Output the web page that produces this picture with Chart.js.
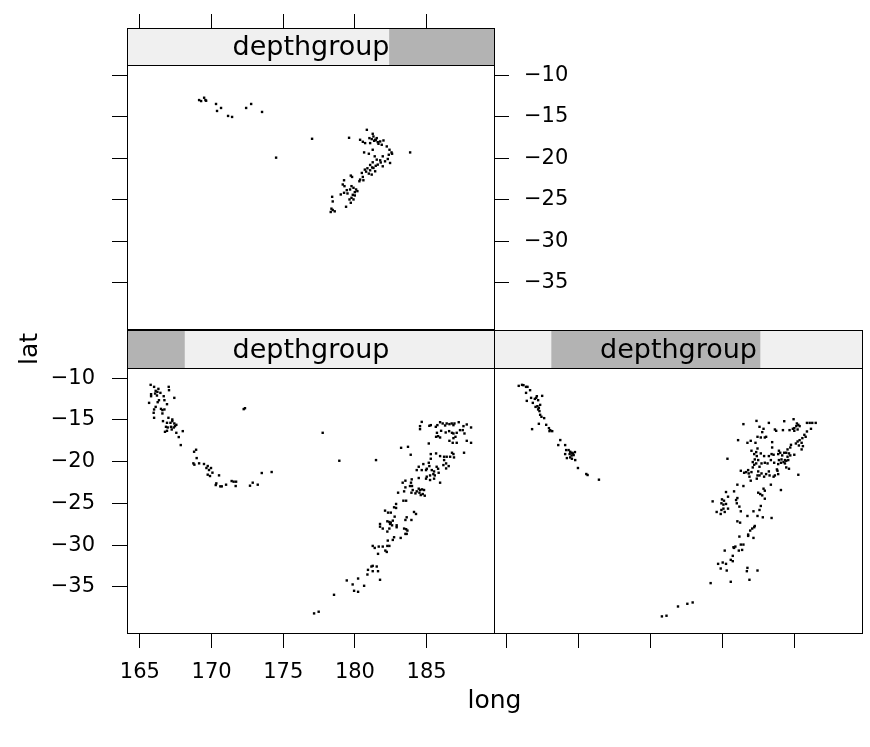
<!DOCTYPE html>
<html>
<head>
<meta charset="utf-8">
<script src="https://cdn.jsdelivr.net/npm/chart.js@4.4.1/dist/chart.umd.min.js"></script>
<style>
  html, body { margin: 0; padding: 0; background: #fff; }
  #wrap { position: relative; width: 870px; height: 747px; }
  #wrap canvas { position: absolute; left: 0; top: 0; }
</style>
</head>
<body>
<div id="wrap">
  <canvas id="panel-shallow" width="870" height="747"></canvas>
  <canvas id="panel-mid" width="870" height="747"></canvas>
  <canvas id="panel-deep" width="870" height="747"></canvas>
</div>
<script>
// Axis limits (lattice pads the data range by 7%) and tick values.
const longRange = [164.10, 189.70];
const latRange = [-40.54, -8.77];
const longTicks = [165, 170, 175, 180, 185];
const latTicks = [-10, -15, -20, -25, -30, -35];

// Shingle for depth: full range and the three overlapping intervals.
const depthRange = [39.5, 680.5];
const depthLevels = [[39.5, 139.5], [138.5, 502.5], [496.5, 680.5]];
const stripLabel = "depthgroup";

// [long, lat].
const shallowPts = [
  [165.75, -10.79], [165.99, -11.03], [166.29, -11.27], [166.10, -11.51], [166.22, -11.63],
  [166.06, -11.83], [166.43, -11.75], [165.78, -11.91], [165.78, -12.15], [166.19, -12.07],
  [166.66, -12.15], [167.01, -11.03], [167.03, -11.43], [167.40, -12.35], [166.33, -12.63],
  [166.24, -12.87], [166.71, -12.63], [165.64, -12.95], [166.89, -13.11], [166.10, -13.43],
  [165.99, -13.74], [166.47, -13.67], [166.57, -13.82], [166.71, -13.74], [165.96, -14.14],
  [166.57, -14.22], [165.99, -14.74], [166.99, -14.74], [167.26, -14.94], [167.26, -15.14],
  [166.61, -15.14], [166.89, -15.34], [167.13, -15.34], [167.40, -15.42], [167.54, -15.58],
  [166.82, -15.82], [166.94, -15.90], [167.17, -15.82], [167.36, -15.90], [167.45, -15.74],
  [167.22, -16.14], [166.89, -16.30], [166.75, -16.42], [167.54, -16.54], [167.99, -16.34],
  [167.71, -17.05], [167.85, -18.01], [168.92, -18.57], [168.78, -18.81], [168.96, -19.57],
  [168.73, -20.20], [168.80, -20.36], [169.13, -20.20], [169.47, -20.28], [169.73, -20.52],
  [169.64, -20.76], [169.96, -20.76], [169.82, -21.00], [170.06, -21.32], [169.73, -21.56],
  [169.89, -21.72], [170.52, -21.64], [170.33, -22.60], [170.29, -22.80], [170.61, -22.96],
  [170.71, -22.96], [171.01, -22.76], [171.40, -22.32], [171.54, -22.40], [171.71, -22.40],
  [171.68, -22.92], [172.68, -22.88], [172.87, -22.52], [173.22, -22.76], [173.50, -21.36],
  [174.19, -21.24], [172.24, -13.70], [172.33, -13.59],
  [184.66, -15.23], [184.54, -15.74], [184.54, -16.10], [185.19, -15.70], [185.29, -15.62],
  [185.64, -15.82], [185.75, -15.62], [185.94, -15.27], [186.12, -15.42], [186.29, -15.66],
  [186.40, -15.42], [186.59, -15.50], [186.75, -15.42], [186.87, -15.62], [186.94, -15.42],
  [187.24, -15.27], [187.57, -15.74], [187.80, -15.54], [188.10, -15.90], [185.72, -16.54],
  [185.80, -16.94], [186.01, -16.30], [186.33, -16.50], [186.57, -16.34], [186.77, -16.54],
  [186.87, -16.62], [187.10, -16.54], [187.33, -16.22], [187.52, -16.22], [187.64, -16.62],
  [187.01, -17.02], [186.87, -17.18], [186.59, -17.50], [185.94, -17.10], [185.66, -17.02],
  [185.15, -17.82], [186.82, -17.74], [187.10, -17.74], [187.80, -17.50], [188.10, -17.74],
  [187.61, -18.93], [177.75, -16.54], [178.91, -19.89], [181.47, -19.81], [183.22, -18.34],
  [183.70, -18.22], [183.89, -19.17], [185.29, -19.09], [185.66, -19.01], [185.94, -19.33],
  [186.22, -19.41], [186.40, -19.41], [186.64, -19.41], [186.91, -19.49], [186.77, -18.93],
  [186.87, -19.09], [186.22, -19.81], [185.29, -19.65], [185.15, -20.13], [184.77, -20.29],
  [184.45, -20.61], [184.31, -21.01], [184.66, -21.01], [184.96, -21.01], [185.01, -20.85],
  [185.19, -20.53], [185.36, -21.01], [185.52, -21.17], [185.70, -20.61], [185.80, -20.85],
  [185.84, -21.33], [186.17, -20.41], [186.36, -20.21], [186.54, -20.53], [186.36, -20.81],
  [185.47, -21.49], [185.57, -21.65], [185.24, -21.65], [185.01, -21.80], [184.96, -22.04],
  [185.24, -22.20], [185.52, -22.04], [185.94, -22.52], [184.45, -21.96], [183.96, -22.12],
  [183.91, -22.52], [183.52, -22.28], [183.33, -22.52], [183.52, -23.08], [183.84, -22.92],
  [183.98, -22.92], [184.03, -23.40], [184.45, -23.24], [184.54, -23.40], [184.68, -23.32],
  [184.82, -23.40], [184.50, -23.72], [184.59, -24.00], [184.73, -23.88], [184.87, -24.08],
  [184.31, -23.56], [184.22, -23.80], [183.94, -23.72], [183.01, -23.72], [183.43, -23.56],
  [183.38, -24.68], [183.57, -24.68], [182.87, -25.07], [182.73, -25.47], [182.87, -25.55],
  [182.10, -25.87], [182.31, -26.11], [182.50, -26.11], [184.12, -26.03], [184.26, -26.27],
  [183.61, -26.67], [183.94, -26.99], [183.52, -26.99], [182.77, -26.59], [182.26, -27.15],
  [182.40, -27.23], [182.50, -27.31], [182.64, -27.07], [182.45, -27.47], [182.59, -27.63],
  [182.91, -27.63], [182.91, -27.86], [181.75, -27.47], [181.75, -27.79], [181.94, -28.02],
  [182.40, -28.02], [183.43, -28.02], [183.57, -28.10], [183.66, -28.26], [183.52, -28.66],
  [183.61, -28.66], [182.26, -28.38], [182.73, -29.06], [182.64, -29.38], [183.19, -29.14],
  [182.29, -29.46], [181.24, -30.10], [181.38, -30.34], [181.66, -30.18], [181.94, -30.18],
  [182.26, -30.10], [182.40, -30.10], [182.12, -30.66], [182.22, -30.82], [181.61, -31.05],
  [181.15, -32.57], [181.24, -32.49], [181.52, -32.57], [180.91, -32.97], [181.24, -33.13],
  [181.61, -33.13], [180.87, -33.53], [181.75, -34.16], [180.22, -34.01], [179.43, -34.24],
  [179.84, -34.72], [180.64, -34.88], [179.94, -35.48], [180.22, -35.60], [178.54, -35.96],
  [177.15, -38.19], [177.47, -37.99],
];

const midPts = [
  [165.82, -10.91], [166.05, -10.79], [166.15, -10.83], [166.33, -11.03], [166.43, -11.03],
  [166.61, -11.43], [166.33, -11.75], [166.68, -12.35], [167.08, -12.15], [167.45, -12.11],
  [166.94, -12.47], [167.03, -12.35], [167.17, -12.63], [166.38, -12.71], [166.80, -12.95],
  [167.31, -13.19], [166.99, -13.43], [167.12, -13.35], [167.22, -13.55], [167.17, -13.74],
  [167.26, -13.94], [167.31, -14.38], [167.40, -14.62], [167.59, -14.78], [167.22, -15.46],
  [167.73, -15.58], [166.75, -16.10], [167.92, -15.98], [168.01, -16.22], [167.96, -16.34],
  [168.15, -16.34], [168.71, -17.41], [168.57, -18.01], [169.05, -18.01], [169.12, -18.61],
  [169.29, -18.61], [169.40, -18.81], [169.50, -18.93], [169.59, -19.01], [169.36, -19.09],
  [169.50, -19.25], [169.05, -19.09], [169.73, -18.85], [169.64, -19.21], [169.40, -19.49],
  [169.17, -19.57], [169.52, -19.65], [169.75, -19.81], [169.94, -20.76], [170.52, -21.48],
  [170.61, -21.60], [171.40, -22.16],
  [182.36, -15.11], [181.45, -15.50], [183.22, -15.35], [184.29, -15.15], [184.94, -14.91],
  [185.17, -15.42], [185.27, -15.58], [185.36, -15.74], [185.13, -15.74], [184.99, -15.98],
  [184.89, -16.06], [185.87, -15.35], [186.06, -15.35], [186.24, -15.35], [186.48, -15.35],
  [186.15, -16.06], [185.87, -16.38], [185.69, -16.78], [185.55, -17.18], [185.78, -17.02],
  [182.57, -15.82], [182.85, -16.06], [182.76, -16.46], [183.64, -16.14], [183.73, -16.30],
  [184.20, -16.22], [184.66, -16.22], [184.99, -16.30], [185.22, -16.14], [185.36, -17.42],
  [185.22, -17.58], [185.10, -17.82], [185.50, -17.74], [185.31, -18.06], [185.59, -18.14],
  [185.50, -18.53], [184.76, -17.98], [184.52, -18.53], [184.43, -18.93], [184.62, -19.01],
  [184.71, -19.25], [184.29, -18.93], [184.52, -19.41], [184.34, -19.81], [184.10, -19.73],
  [184.24, -20.05], [184.43, -19.89], [184.57, -19.81], [184.34, -20.21], [184.06, -20.13],
  [183.92, -19.81], [183.92, -18.69], [183.87, -19.09], [184.01, -18.93], [184.15, -19.25],
  [184.71, -18.30], [184.99, -19.17], [183.45, -17.66], [183.45, -18.30], [183.41, -19.09],
  [183.22, -19.33], [182.89, -19.33], [182.66, -19.01], [182.43, -17.02], [182.66, -17.10],
  [182.94, -17.10], [183.03, -17.02], [181.96, -17.50], [181.73, -17.74], [182.29, -17.74],
  [181.08, -17.42], [182.43, -18.42], [182.34, -18.85], [182.20, -19.09], [182.01, -18.69],
  [182.38, -19.33], [182.48, -19.81], [182.24, -19.73], [182.10, -20.05], [182.34, -20.21],
  [182.20, -20.37], [182.57, -20.61], [182.71, -20.21], [182.94, -20.13], [183.13, -20.21],
  [183.36, -19.81], [183.55, -19.17], [183.59, -20.13], [183.87, -20.29], [183.78, -20.93],
  [183.82, -21.09], [183.87, -21.49], [183.64, -21.65], [183.55, -21.80], [183.27, -21.65],
  [183.22, -21.17], [183.03, -21.49], [182.89, -21.80], [182.71, -21.41], [182.48, -21.17],
  [182.43, -21.65], [182.10, -20.69], [182.01, -21.25], [181.78, -21.01], [181.82, -21.41],
  [181.50, -21.33], [181.27, -21.09], [181.64, -21.25], [181.87, -21.80], [181.96, -22.28],
  [182.38, -22.04], [182.57, -21.65], [184.43, -20.69], [184.62, -20.85], [185.27, -21.57],
  [180.34, -19.65], [181.03, -22.76], [181.45, -22.92], [183.36, -22.76], [184.06, -23.40],
  [182.48, -23.72], [182.62, -23.88], [182.85, -23.24], [182.94, -23.48], [182.76, -24.04],
  [182.94, -24.44], [180.24, -23.64], [180.38, -24.20], [179.96, -24.52], [180.10, -24.68],
  [179.92, -24.99], [180.06, -25.15], [180.24, -25.07], [180.38, -25.63], [180.06, -25.63],
  [179.92, -25.79], [179.31, -24.76], [179.59, -26.03], [179.87, -26.27], [180.15, -26.03],
  [180.80, -23.56], [180.94, -24.60], [180.99, -24.99], [181.17, -25.39], [181.03, -24.36],
  [181.27, -25.95], [182.57, -25.79], [182.66, -25.31], [182.15, -25.95], [182.43, -26.51],
  [182.80, -26.67], [183.41, -26.75], [181.73, -26.51], [181.03, -27.15], [181.22, -27.31],
  [182.24, -27.71], [182.20, -27.86], [182.06, -28.02], [181.92, -28.26], [181.78, -28.74],
  [181.78, -28.90], [182.15, -29.14], [181.17, -28.98], [181.27, -29.94], [181.45, -29.94],
  [180.89, -30.18], [180.80, -30.34], [180.76, -30.26], [181.13, -30.66], [181.36, -30.58],
  [180.71, -31.29], [180.15, -30.66], [180.71, -31.93], [180.01, -32.09], [180.24, -32.25],
  [179.69, -32.25], [180.57, -31.77], [179.87, -32.81], [180.29, -33.05], [181.73, -32.73],
  [181.69, -33.13], [182.43, -33.05], [181.87, -34.16], [180.57, -34.40], [179.17, -34.56],
  [177.92, -36.88], [177.55, -37.04], [176.90, -37.36], [176.10, -38.47], [175.78, -38.55],
];

const deepPts = [
  [169.13, -12.99], [169.27, -13.11], [169.48, -12.71], [169.57, -12.99], [169.62, -13.07],
  [170.31, -13.46], [170.66, -13.94], [170.38, -14.30], [171.15, -14.90], [171.43, -15.02],
  [172.41, -13.94], [172.76, -13.46], [173.52, -14.42], [174.50, -19.92], [177.01, -17.65],
  [179.59, -17.53], [180.83, -16.57], [181.24, -17.05], [180.36, -17.77], [180.55, -18.01],
  [180.71, -18.17], [181.06, -18.17], [181.41, -17.77], [181.52, -17.57], [181.76, -17.97],
  [181.99, -17.85], [181.64, -18.25], [181.87, -18.37], [182.22, -18.57], [182.41, -18.97],
  [182.55, -19.29], [182.59, -19.45], [182.36, -19.57], [183.85, -19.29], [181.01, -17.57],
  [181.17, -17.69], [181.34, -17.89], [181.29, -17.37], [181.45, -17.81], [181.59, -18.05],
  [180.64, -19.29], [180.97, -19.45], [181.24, -18.97], [181.38, -19.76], [181.52, -20.16],
  [181.76, -20.24], [181.94, -19.76], [182.10, -20.36], [182.29, -20.08], [182.45, -20.56],
  [181.94, -20.96], [181.59, -20.76], [181.24, -20.48], [181.06, -20.80], [180.87, -21.20],
  [180.69, -21.36], [180.78, -21.60], [181.06, -21.44], [181.41, -21.56], [181.29, -21.16],
  [180.97, -21.84], [181.17, -21.96], [180.48, -21.76], [180.55, -22.24], [180.36, -22.56],
  [180.59, -22.64], [179.71, -22.08], [179.80, -22.24], [179.24, -22.64], [180.31, -22.76],
  [181.20, -21.10], [181.45, -20.90], [181.80, -20.50], [179.15, -23.15], [179.27, -23.35],
  [179.76, -23.35], [179.90, -23.55], [180.08, -23.75], [180.17, -23.95], [179.99, -24.07],
  [179.66, -23.75], [179.43, -23.83], [179.24, -24.15], [179.01, -24.35], [179.48, -24.23],
  [179.85, -24.39], [179.99, -24.47], [179.76, -24.75], [179.62, -24.95], [179.90, -24.95],
  [179.71, -25.35], [178.41, -24.63], [178.45, -25.19], [179.38, -25.83], [178.36, -26.06],
  [178.45, -26.22], [178.59, -26.38], [178.31, -26.46],
];

const fontStack = "'DejaVu Sans', sans-serif";
const tickFont = { family: fontStack, size: 21 };
const minusLabel = (v) => (v < 0 ? "\u2212" + Math.abs(v) : String(v));

function fixedTicks(values) {
  return (scale) => {
    scale.ticks = values.map((v) => ({ value: v }));
  };
}

// One axis: black outward tick marks, no gridlines, fixed box size so the
// panel lands exactly where lattice put it.
function axis(position, range, ticks, size, opts) {
  const horizontal = position === "top" || position === "bottom";
  return {
    type: "linear",
    position: position,
    min: range[0],
    max: range[1],
    afterBuildTicks: fixedTicks(ticks),
    afterFit: (s) => {
      if (horizontal) s.height = size;
      else s.width = size;
    },
    grid: {
      drawOnChartArea: false,
      drawTicks: true,
      tickLength: opts.tickLength || 15,
      color: "#000",
      tickColor: "#000",
      lineWidth: 1,
    },
    border: { display: false },
    ticks: {
      display: opts.labels,
      color: "#000",
      font: tickFont,
      padding: opts.padding || 0,
      maxRotation: 0,
      autoSkip: false,
      callback: minusLabel,
    },
  };
}

// Panel frame, shingle strip above it, and the shared axis titles.
const panelPlugin = {
  id: "panel",
  afterDraw(chart, args, o) {
    const { ctx, chartArea: a } = chart;
    const left = Math.round(a.left) + 0.5;
    const right = Math.round(a.right) + 0.5;
    const w = right - left;
    ctx.save();
    ctx.strokeStyle = "#000";
    ctx.lineWidth = 1;
    ctx.strokeRect(left, Math.round(a.top) + 0.5, w, Math.round(a.bottom) - Math.round(a.top));

    // strip
    const y0 = o.stripTop + 0.5;
    const y1 = o.stripBottom + 0.5;
    ctx.fillStyle = "#F0F0F0";
    ctx.fillRect(left, y0, w, y1 - y0);
    const span = depthRange[1] - depthRange[0];
    const lv = depthLevels[o.level];
    const d0 = left + ((lv[0] - depthRange[0]) / span) * w;
    const d1 = left + ((lv[1] - depthRange[0]) / span) * w;
    ctx.fillStyle = "#B3B3B3";
    ctx.fillRect(d0, y0, d1 - d0, y1 - y0);
    ctx.strokeRect(left, y0, w, y1 - y0);
    ctx.fillStyle = "#000";
    ctx.font = "27px " + fontStack;
    ctx.textAlign = "center";
    ctx.textBaseline = "middle";
    ctx.fillText(stripLabel, (left + right) / 2, (y0 + y1) / 2 + 1);

    if (o.titles) {
      ctx.font = "25px " + fontStack;
      ctx.fillText("long", 494.5, 701);
      ctx.translate(30, 349);
      ctx.rotate(-Math.PI / 2);
      ctx.fillText("lat", 0, 0);
    }
    ctx.restore();
  },
};

function makePanel(id, points, scales, padding, panelOpts) {
  return new Chart(document.getElementById(id), {
    type: "scatter",
    data: {
      datasets: [
        {
          data: points.map((p) => ({ x: p[0], y: p[1] })),
          pointStyle: "rect",
          pointRadius: 1.7,
          pointBorderWidth: 0,
          backgroundColor: "#000",
          borderColor: "#000",
        },
      ],
    },
    options: {
      responsive: false,
      devicePixelRatio: 1,
      animation: false,
      events: [],
      layout: { padding: padding },
      plugins: { legend: { display: false }, tooltip: { enabled: false }, panel: panelOpts },
      scales: scales,
    },
    plugins: [panelPlugin],
  });
}

// Bottom-left: shallow group, labelled bottom and left axes.
makePanel(
  "panel-shallow",
  shallowPts,
  {
    x: axis("bottom", longRange, longTicks, 114, { labels: true, padding: 12 }),
    y: axis("left", latRange, latTicks, 127, { labels: true, padding: 17 }),
  },
  { left: 0, top: 368, right: 376, bottom: 0 },
  { level: 0, stripTop: 330, stripBottom: 368, titles: true }
);

// Bottom-right: middle group, bottom tick marks only.
makePanel(
  "panel-mid",
  midPts,
  {
    x: axis("bottom", longRange, longTicks, 114, { labels: false }),
    y: { type: "linear", display: false, min: latRange[0], max: latRange[1] },
  },
  { left: 494, top: 368, right: 8, bottom: 0 },
  { level: 1, stripTop: 330, stripBottom: 368 }
);

// Top-left: deep group, ticks above its strip, labels on the right.
makePanel(
  "panel-deep",
  deepPts,
  {
    x: axis("top", longRange, longTicks, 65, { labels: false, tickLength: 51 }),
    y: axis("left", latRange, latTicks, 127, { labels: false }),
    y2: axis("right", latRange, latTicks, 376, { labels: true, padding: 15 }),
  },
  { left: 0, top: 0, right: 0, bottom: 418 },
  { level: 2, stripTop: 28, stripBottom: 65 }
);
</script>
</body>
</html>
